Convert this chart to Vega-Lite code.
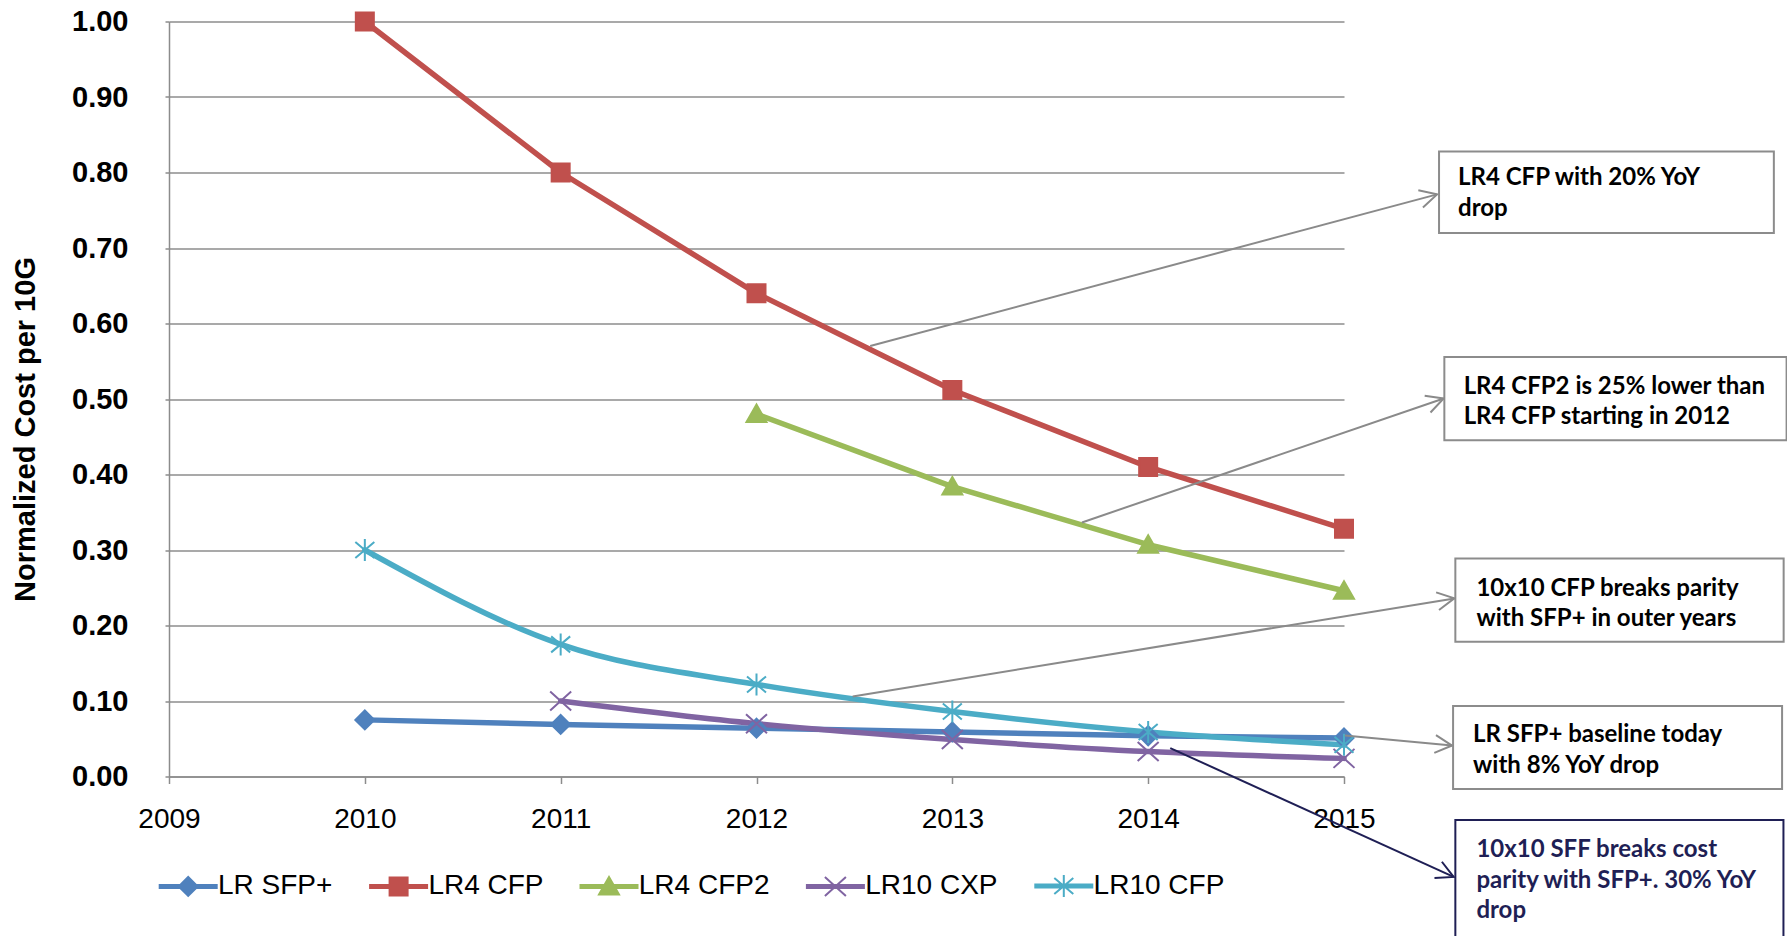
{
  "$schema": "https://vega.github.io/schema/vega-lite/v6.json",
  "width": 1175,
  "height": 755,
  "autosize": {"type": "none"},
  "padding": {"left": 169, "top": 21.5, "right": 443, "bottom": 159.5},
  "background": "white",
  "config": {
    "view": {"stroke": null},
    "font": "Liberation Sans",
    "axisX": {"grid": false, "labelFontSize": 28, "labelColor": "black", "labelFont": "Liberation Sans", "tickSize": 7, "tickColor": "#8c8c8c", "tickWidth": 1.5, "domainColor": "#8c8c8c", "domainWidth": 1.5, "labelPadding": 22, "labelFlush": false, "labelOverlap": false},
    "axisY": {"grid": true, "gridColor": "#8c8c8c", "gridWidth": 1.5, "labelFontSize": 29, "labelFontWeight": "bold", "labelColor": "black", "labelFont": "Liberation Sans", "labelPadding": 37, "tickSize": 4, "tickColor": "#8c8c8c", "tickWidth": 1.5, "domainColor": "#8c8c8c", "domainWidth": 1.5, "labelFlush": false, "labelOverlap": false, "titleFontSize": 29, "titleFontWeight": "bold", "titleColor": "black", "titleFont": "Liberation Sans"}
  },
  "datasets": {
    "series": [
      {"series": "LR SFP+", "year": 2010, "value": 0.075},
      {"series": "LR SFP+", "year": 2011, "value": 0.069},
      {"series": "LR SFP+", "year": 2012, "value": 0.064},
      {"series": "LR SFP+", "year": 2013, "value": 0.059},
      {"series": "LR SFP+", "year": 2014, "value": 0.054},
      {"series": "LR SFP+", "year": 2015, "value": 0.051},
      {"series": "LR4 CFP", "year": 2010, "value": 1.0},
      {"series": "LR4 CFP", "year": 2011, "value": 0.8},
      {"series": "LR4 CFP", "year": 2012, "value": 0.64},
      {"series": "LR4 CFP", "year": 2013, "value": 0.512},
      {"series": "LR4 CFP", "year": 2014, "value": 0.41},
      {"series": "LR4 CFP", "year": 2015, "value": 0.328},
      {"series": "LR4 CFP2", "year": 2012, "value": 0.48},
      {"series": "LR4 CFP2", "year": 2013, "value": 0.384},
      {"series": "LR4 CFP2", "year": 2014, "value": 0.307},
      {"series": "LR4 CFP2", "year": 2015, "value": 0.246},
      {"series": "LR10 CXP", "year": 2011, "value": 0.1},
      {"series": "LR10 CXP", "year": 2012, "value": 0.07},
      {"series": "LR10 CXP", "year": 2013, "value": 0.049},
      {"series": "LR10 CXP", "year": 2014, "value": 0.033},
      {"series": "LR10 CXP", "year": 2015, "value": 0.024},
      {"series": "LR10 CFP", "year": 2010, "value": 0.3},
      {"series": "LR10 CFP", "year": 2011, "value": 0.175},
      {"series": "LR10 CFP", "year": 2012, "value": 0.122},
      {"series": "LR10 CFP", "year": 2013, "value": 0.086},
      {"series": "LR10 CFP", "year": 2014, "value": 0.059},
      {"series": "LR10 CFP", "year": 2015, "value": 0.042}
    ],
    "boxes": [
      {"id": "B1", "x1": 2015.4853, "x2": 2017.195, "y1": 0.8279, "y2": 0.7198, "tx": 2015.5823, "ty": 0.8085, "label": "LR4 CFP with 20% YoY\ndrop"},
      {"id": "B2", "x1": 2015.5124, "x2": 2017.26, "y1": 0.5557, "y2": 0.4454, "tx": 2015.611, "ty": 0.5322, "label": "LR4 CFP2 is 25% lower than\nLR4 CFP starting in 2012"},
      {"id": "B3", "x1": 2015.5686, "x2": 2017.245, "y1": 0.2886, "y2": 0.1784, "tx": 2015.676, "ty": 0.2649, "label": "10x10 CFP breaks parity\nwith SFP+ in outer years"},
      {"id": "B4", "x1": 2015.557, "x2": 2017.237, "y1": 0.0933, "y2": -0.0165, "tx": 2015.659, "ty": 0.0703, "label": "LR SFP+ baseline today\nwith 8% YoY drop"},
      {"id": "B5", "x1": 2015.5686, "x2": 2017.244, "y1": -0.0576, "y2": -0.25, "tx": 2015.676, "ty": -0.0819, "label": "10x10 SFF breaks cost\nparity with SFP+. 30% YoY\ndrop"}
    ],
    "arrows": [
      {"id": "A1", "sx": 2012.5806, "sy": 0.5702, "tx": 2015.4752, "ty": 0.771},
      {"id": "A2", "sx": 2013.6618, "sy": 0.3365, "tx": 2015.5089, "ty": 0.5006},
      {"id": "A3", "sx": 2012.4911, "sy": 0.106, "tx": 2015.5635, "ty": 0.2359},
      {"id": "A4", "sx": 2015.004, "sy": 0.0543, "tx": 2015.5518, "ty": 0.041},
      {"id": "A5", "sx": 2014.1128, "sy": 0.0377, "tx": 2015.5599, "ty": -0.133}
    ]
  },
  "layer": [
    {
      "data": {"name": "series"},
      "transform": [{"filter": "datum.series === 'LR SFP+' || datum.series === 'LR4 CFP' || datum.series === 'LR4 CFP2'"}],
      "mark": {"type": "line", "strokeWidth": 5.5, "strokeCap": "round", "strokeJoin": "round"},
      "encoding": {
        "x": {"field": "year", "type": "quantitative", "scale": {"domain": [2009, 2015], "nice": false, "zero": false},
          "axis": {"values": [2009, 2010, 2011, 2012, 2013, 2014, 2015], "format": "d", "title": null}},
        "y": {"field": "value", "type": "quantitative", "scale": {"domain": [0, 1], "nice": false, "zero": false},
          "axis": {"values": [0, 0.1, 0.2, 0.3, 0.4, 0.5, 0.6, 0.7, 0.8, 0.9, 1.0], "format": ".2f", "title": "Normalized Cost per 10G", "titleX": -143.4, "titleY": 407.5, "titleAngle": 270, "titleAlign": "center", "titleBaseline": "middle"}},
        "color": {"field": "series", "type": "nominal",
          "scale": {"domain": ["LR SFP+", "LR4 CFP", "LR4 CFP2", "LR10 CXP", "LR10 CFP"], "range": ["#4F81BD", "#C0504D", "#9BBB59", "#8064A2", "#4BACC6"]},
          "legend": {"title": null, "orient": "none", "direction": "horizontal", "legendX": 5.2, "legendY": 850.4, "padding": 0, "symbolSize": 400, "symbolOffset": 0, "symbolStrokeWidth": 2, "labelOffset": 15.8, "columnPadding": 32.4, "labelFontSize": 28, "labelFont": "Liberation Sans", "labelColor": "black", "labelLimit": 300,
            "encode": {"symbols": {"update": {
              "fill": {"signal": "scale('color', datum.value)"},
              "stroke": {"signal": "scale('color', datum.value)"},
              "strokeWidth": {"value": 2},
              "opacity": {"value": 1}
            }}}}}
      }
    },
    {
      "data": {"name": "series"},
      "transform": [{"filter": "datum.series === 'LR10 CXP' || datum.series === 'LR10 CFP'"}],
      "mark": {"type": "line", "strokeWidth": 5.5, "strokeCap": "round", "strokeJoin": "round", "interpolate": "monotone"},
      "encoding": {
        "x": {"field": "year", "type": "quantitative", "scale": {"domain": [2009, 2015], "nice": false, "zero": false}},
        "y": {"field": "value", "type": "quantitative", "scale": {"domain": [0, 1], "nice": false, "zero": false}},
        "color": {"field": "series", "type": "nominal", "scale": {"domain": ["LR SFP+", "LR4 CFP", "LR4 CFP2", "LR10 CXP", "LR10 CFP"], "range": ["#4F81BD", "#C0504D", "#9BBB59", "#8064A2", "#4BACC6"]}}
      }
    },
    {
      "data": {"name": "series"},
      "transform": [{"filter": "false"}],
      "mark": {"type": "point", "filled": true, "size": 400, "strokeWidth": 2, "opacity": 1},
      "encoding": {
        "x": {"field": "year", "type": "quantitative", "scale": {"domain": [2009, 2015], "nice": false, "zero": false}},
        "y": {"field": "value", "type": "quantitative", "scale": {"domain": [0, 1], "nice": false, "zero": false}},
        "shape": {"field": "series", "type": "nominal", "legend": null,
          "scale": {"domain": ["LR SFP+", "LR4 CFP", "LR4 CFP2", "LR10 CXP", "LR10 CFP"], "range": [
            "M-2.85,-0.15L2.85,-0.15L2.85,0.15L-2.85,0.15Z M0,-0.95L0.95,0L0,0.95L-0.95,0Z",
            "M-2.85,-0.15L2.85,-0.15L2.85,0.15L-2.85,0.15Z M-0.9,-0.9L0.9,-0.9L0.9,0.9L-0.9,0.9Z",
            "M-2.85,-0.15L2.85,-0.15L2.85,0.15L-2.85,0.15Z M0,-0.95L1,0.8L-1,0.8Z",
            "M-2.85,-0.15L2.85,-0.15L2.85,0.15L-2.85,0.15Z M-1.05,-0.95L1.05,0.95M-1.05,0.95L1.05,-0.95",
            "M-2.85,-0.15L2.85,-0.15L2.85,0.15L-2.85,0.15Z M-0.95,-0.8L0.95,0.8M-0.95,0.8L0.95,-0.8M0,-1.1L0,1.1"]}}
      }
    },
    {
      "data": {"name": "series"},
      "transform": [{"filter": "datum.series === 'LR SFP+'"}],
      "mark": {"type": "point", "shape": "M0,-0.95L0.95,0L0,0.95L-0.95,0Z", "size": 400, "filled": true, "fill": "#4F81BD", "stroke": "#4F81BD", "strokeWidth": 2, "opacity": 1},
      "encoding": {
        "x": {"field": "year", "type": "quantitative", "scale": {"domain": [2009, 2015], "nice": false, "zero": false}},
        "y": {"field": "value", "type": "quantitative", "scale": {"domain": [0, 1], "nice": false, "zero": false}}
      }
    },
    {
      "data": {"name": "series"},
      "transform": [{"filter": "datum.series === 'LR4 CFP'"}],
      "mark": {"type": "point", "shape": "M-0.9,-0.9L0.9,-0.9L0.9,0.9L-0.9,0.9Z", "size": 400, "filled": true, "fill": "#C0504D", "stroke": "#C0504D", "strokeWidth": 2, "opacity": 1},
      "encoding": {
        "x": {"field": "year", "type": "quantitative", "scale": {"domain": [2009, 2015], "nice": false, "zero": false}},
        "y": {"field": "value", "type": "quantitative", "scale": {"domain": [0, 1], "nice": false, "zero": false}}
      }
    },
    {
      "data": {"name": "series"},
      "transform": [{"filter": "datum.series === 'LR4 CFP2'"}],
      "mark": {"type": "point", "shape": "M0,-0.95L1,0.8L-1,0.8Z", "size": 400, "filled": true, "fill": "#9BBB59", "stroke": "#9BBB59", "strokeWidth": 2, "opacity": 1},
      "encoding": {
        "x": {"field": "year", "type": "quantitative", "scale": {"domain": [2009, 2015], "nice": false, "zero": false}},
        "y": {"field": "value", "type": "quantitative", "scale": {"domain": [0, 1], "nice": false, "zero": false}}
      }
    },
    {
      "data": {"name": "series"},
      "transform": [{"filter": "datum.series === 'LR10 CXP'"}],
      "mark": {"type": "point", "shape": "M-1.05,-0.95L1.05,0.95M-1.05,0.95L1.05,-0.95", "size": 400, "filled": false, "stroke": "#8064A2", "strokeWidth": 2, "opacity": 1},
      "encoding": {
        "x": {"field": "year", "type": "quantitative", "scale": {"domain": [2009, 2015], "nice": false, "zero": false}},
        "y": {"field": "value", "type": "quantitative", "scale": {"domain": [0, 1], "nice": false, "zero": false}}
      }
    },
    {
      "data": {"name": "series"},
      "transform": [{"filter": "datum.series === 'LR10 CFP'"}],
      "mark": {"type": "point", "shape": "M-0.95,-0.8L0.95,0.8M-0.95,0.8L0.95,-0.8M0,-1.1L0,1.1", "size": 400, "filled": false, "stroke": "#4BACC6", "strokeWidth": 2, "opacity": 1},
      "encoding": {
        "x": {"field": "year", "type": "quantitative", "scale": {"domain": [2009, 2015], "nice": false, "zero": false}},
        "y": {"field": "value", "type": "quantitative", "scale": {"domain": [0, 1], "nice": false, "zero": false}}
      }
    },
    {
      "data": {"name": "arrows"},
      "transform": [{"filter": "datum.id !== 'A5'"}],
      "mark": {"type": "rule", "stroke": "#8a8a8a", "strokeWidth": 2},
      "encoding": {
        "x": {"field": "sx", "type": "quantitative", "scale": {"domain": [2009, 2015], "nice": false, "zero": false}},
        "y": {"field": "sy", "type": "quantitative", "scale": {"domain": [0, 1], "nice": false, "zero": false}},
        "x2": {"field": "tx"},
        "y2": {"field": "ty"}
      }
    },
    {
      "data": {"name": "arrows"},
      "transform": [{"filter": "datum.id === 'A5'"}],
      "mark": {"type": "rule", "stroke": "#1F1F55", "strokeWidth": 2},
      "encoding": {
        "x": {"field": "sx", "type": "quantitative", "scale": {"domain": [2009, 2015], "nice": false, "zero": false}},
        "y": {"field": "sy", "type": "quantitative", "scale": {"domain": [0, 1], "nice": false, "zero": false}},
        "x2": {"field": "tx"},
        "y2": {"field": "ty"}
      }
    },
    {
      "data": {"name": "arrows"},
      "transform": [{"filter": "datum.id === 'A1'"}],
      "mark": {"type": "point", "shape": "M-2,-1.05L0,0L-2,1.05", "size": 289, "angle": -15, "filled": false, "stroke": "#8a8a8a", "strokeWidth": 2, "opacity": 1},
      "encoding": {
        "x": {"field": "tx", "type": "quantitative", "scale": {"domain": [2009, 2015], "nice": false, "zero": false}},
        "y": {"field": "ty", "type": "quantitative", "scale": {"domain": [0, 1], "nice": false, "zero": false}}
      }
    },
    {
      "data": {"name": "arrows"},
      "transform": [{"filter": "datum.id === 'A2'"}],
      "mark": {"type": "point", "shape": "M-2,-1.05L0,0L-2,1.05", "size": 289, "angle": -19, "filled": false, "stroke": "#8a8a8a", "strokeWidth": 2, "opacity": 1},
      "encoding": {
        "x": {"field": "tx", "type": "quantitative", "scale": {"domain": [2009, 2015], "nice": false, "zero": false}},
        "y": {"field": "ty", "type": "quantitative", "scale": {"domain": [0, 1], "nice": false, "zero": false}}
      }
    },
    {
      "data": {"name": "arrows"},
      "transform": [{"filter": "datum.id === 'A3'"}],
      "mark": {"type": "point", "shape": "M-2,-1.05L0,0L-2,1.05", "size": 289, "angle": -9.3, "filled": false, "stroke": "#8a8a8a", "strokeWidth": 2, "opacity": 1},
      "encoding": {
        "x": {"field": "tx", "type": "quantitative", "scale": {"domain": [2009, 2015], "nice": false, "zero": false}},
        "y": {"field": "ty", "type": "quantitative", "scale": {"domain": [0, 1], "nice": false, "zero": false}}
      }
    },
    {
      "data": {"name": "arrows"},
      "transform": [{"filter": "datum.id === 'A4'"}],
      "mark": {"type": "point", "shape": "M-2,-1.05L0,0L-2,1.05", "size": 289, "angle": 5.4, "filled": false, "stroke": "#8a8a8a", "strokeWidth": 2, "opacity": 1},
      "encoding": {
        "x": {"field": "tx", "type": "quantitative", "scale": {"domain": [2009, 2015], "nice": false, "zero": false}},
        "y": {"field": "ty", "type": "quantitative", "scale": {"domain": [0, 1], "nice": false, "zero": false}}
      }
    },
    {
      "data": {"name": "arrows"},
      "transform": [{"filter": "datum.id === 'A5'"}],
      "mark": {"type": "point", "shape": "M-2,-1.05L0,0L-2,1.05", "size": 289, "angle": 24.5, "filled": false, "stroke": "#1F1F55", "strokeWidth": 2, "opacity": 1},
      "encoding": {
        "x": {"field": "tx", "type": "quantitative", "scale": {"domain": [2009, 2015], "nice": false, "zero": false}},
        "y": {"field": "ty", "type": "quantitative", "scale": {"domain": [0, 1], "nice": false, "zero": false}}
      }
    },
    {
      "data": {"name": "boxes"},
      "transform": [{"filter": "datum.id !== 'B5'"}],
      "mark": {"type": "rect", "fill": "white", "stroke": "#8c8c8c", "strokeWidth": 2},
      "encoding": {
        "x": {"field": "x1", "type": "quantitative", "scale": {"domain": [2009, 2015], "nice": false, "zero": false}},
        "x2": {"field": "x2"},
        "y": {"field": "y1", "type": "quantitative", "scale": {"domain": [0, 1], "nice": false, "zero": false}},
        "y2": {"field": "y2"}
      }
    },
    {
      "data": {"name": "boxes"},
      "transform": [{"filter": "datum.id === 'B5'"}],
      "mark": {"type": "rect", "fill": "white", "stroke": "#1F1F55", "strokeWidth": 2},
      "encoding": {
        "x": {"field": "x1", "type": "quantitative", "scale": {"domain": [2009, 2015], "nice": false, "zero": false}},
        "x2": {"field": "x2"},
        "y": {"field": "y1", "type": "quantitative", "scale": {"domain": [0, 1], "nice": false, "zero": false}},
        "y2": {"field": "y2"}
      }
    },
    {
      "data": {"name": "boxes"},
      "transform": [{"filter": "datum.id !== 'B5'"}],
      "mark": {"type": "text", "align": "left", "baseline": "top", "lineBreak": "\n", "lineHeight": 30.5, "font": "Lato", "fontSize": 24, "fontWeight": "bold", "color": "black"},
      "encoding": {
        "x": {"field": "tx", "type": "quantitative", "scale": {"domain": [2009, 2015], "nice": false, "zero": false}},
        "y": {"field": "ty", "type": "quantitative", "scale": {"domain": [0, 1], "nice": false, "zero": false}},
        "text": {"field": "label"}
      }
    },
    {
      "data": {"name": "boxes"},
      "transform": [{"filter": "datum.id === 'B5'"}],
      "mark": {"type": "text", "align": "left", "baseline": "top", "lineBreak": "\n", "lineHeight": 30.5, "font": "Lato", "fontSize": 24, "fontWeight": "bold", "color": "#1F1F55"},
      "encoding": {
        "x": {"field": "tx", "type": "quantitative", "scale": {"domain": [2009, 2015], "nice": false, "zero": false}},
        "y": {"field": "ty", "type": "quantitative", "scale": {"domain": [0, 1], "nice": false, "zero": false}},
        "text": {"field": "label"}
      }
    }
  ]
}
